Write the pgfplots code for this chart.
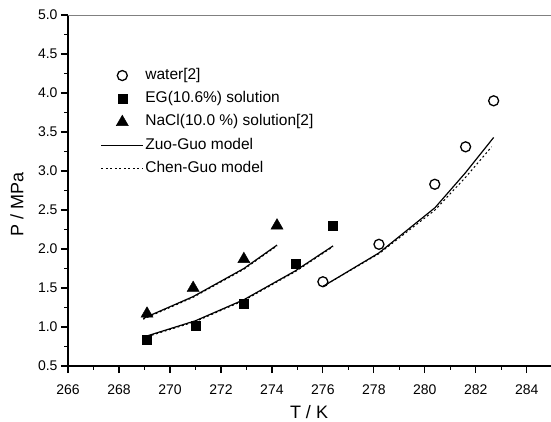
\documentclass[border=0pt]{standalone}
\usepackage{fontspec}
\setmainfont{Liberation Sans}
\usepackage{pgfplots}
\pgfplotsset{compat=1.18}

\begin{document}
\begin{tikzpicture}
\begin{axis}[
    name=ax,
    scale only axis, width=483pt, height=351pt,
    xmin=266, xmax=284.95, ymin=0.5, ymax=5.0,
    xtick={266,268,270,272,274,276,278,280,282,284}, minor x tick num=1,
    ytick={0.5,1.0,1.5,2.0,2.5,3.0,3.5,4.0,4.5,5.0}, minor y tick num=1,
    axis x line*=bottom, axis y line*=left,
    axis line style={line width=1.6pt, -},
    every outer x axis line/.append style={-},
    every outer y axis line/.append style={-},
    tick align=outside, major tick length=7pt, minor tick length=3.5pt,
    tick style={black, line width=1.2pt},
    /pgf/number format/assume math mode=true,
    tick label style={font=\fontsize{14}{14}\selectfont},
    yticklabel style={/pgf/number format/.cd, fixed, fixed zerofill, precision=1},
    xticklabel style={/pgf/number format/1000 sep={}, yshift=-8pt},
    xlabel={T / K}, ylabel={P / MPa},
    every axis x label/.style={at={(axis description cs:0.499,0)}, anchor=center, yshift=-46pt,
        font=\fontsize{18}{18}\selectfont},
    every axis y label/.style={at={(axis description cs:-0.1056,0.459)}, anchor=center, rotate=90,
        font=\fontsize{18}{18}\selectfont},
    legend cell align=left,
    legend style={draw=none, fill=none, at={(axis description cs:0.0673,0.853)}, anchor=north west,
        font=\fontsize{15.5}{17}\selectfont, row sep=5.8pt, inner sep=0pt,
        nodes={inner sep=1.5pt, text height=11pt, text depth=3.5pt},
        /tikz/every odd column/.append style={column sep=0pt}},
    legend image code/.code={\draw[mark repeat=2,mark phase=2,#1] plot coordinates {(0pt,0pt) (21pt,0pt) (42pt,0pt)};},
]
% measured points
\addplot[only marks, mark=o, mark size=5pt, line width=1.3pt, black] coordinates {
    (276.0,1.58) (278.2,2.06) (280.39,2.83) (281.6,3.31) (282.7,3.90)};
\addlegendentry{water[2]}
\addplot[only marks, mark=square*, mark size=4.5pt, black] coordinates {
    (269.1,0.84) (271.0,1.02) (272.9,1.30) (274.92,1.81) (276.4,2.30)};
\addlegendentry{EG(10.6\%) solution}
\addplot[only marks, mark=triangle*, mark size=7pt, black] coordinates {
    (269.1,1.17) (270.91,1.50) (272.9,1.87) (274.2,2.30)};
\addlegendentry{NaCl(10.0 \%) solution[2]}

% model curves
\addplot[black, line width=1.2pt] coordinates {
    (276.0,1.52) (278.2,1.95) (280.4,2.53) (281.6,2.98) (282.7,3.43)};
\addlegendentry{Zuo-Guo model}
\addplot[black, line width=1pt, dash pattern=on 2pt off 2.5pt] coordinates {
    (276.0,1.52) (278.2,1.94) (280.4,2.50) (281.6,2.92) (282.62,3.31)};
\addlegendentry{Chen-Guo model}

\addplot[black, line width=1.2pt, forget plot] coordinates {
    (268.95,0.87) (271.0,1.08) (272.9,1.35) (274.92,1.72) (276.4,2.04)};
\addplot[black, line width=1pt, dash pattern=on 2pt off 2.5pt, forget plot] coordinates {
    (268.95,0.86) (271.0,1.07) (272.9,1.34) (274.92,1.71) (276.4,2.03)};
\addplot[black, line width=1.2pt, forget plot] coordinates {
    (268.95,1.11) (270.91,1.39) (272.9,1.75) (274.2,2.05)};
\addplot[black, line width=1pt, dash pattern=on 2pt off 2.5pt, forget plot] coordinates {
    (268.95,1.10) (270.91,1.38) (272.9,1.74) (274.2,2.04)};

% thin top frame line
\draw[gray, line width=0.8pt] (rel axis cs:0,1) -- (rel axis cs:1,1);
\end{axis}
\pgfresetboundingbox
\useasboundingbox ([shift={(-68pt,-55pt)}]ax.south west) rectangle ([shift={(0pt,15pt)}]ax.north east);
\end{tikzpicture}
\end{document}
